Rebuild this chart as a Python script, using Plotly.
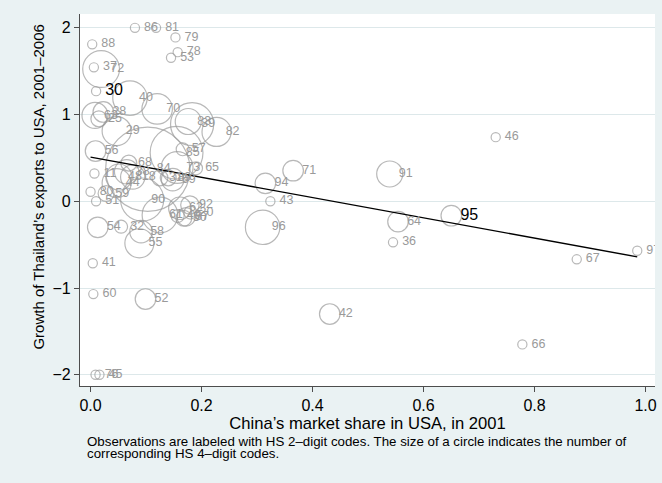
import plotly.graph_objects as go

# HS 2-digit product groups: China's 2001 share of the US market,
# growth of Thailand's exports to the US 2001-2006, and the number of
# HS 4-digit headings in each group (drives the circle size).
hs_codes = [
    "86", "81", "79", "88", "78", "53", "37", "72", "30", "40",
    "70", "83", "39", "82", "29", "63", "28", "25",
    "46", "71", "94", "43", "91", "64", "36", "96", "95", "67",
    "97", "42", "66", "52", "60", "41", "76", "45",
    "84", "85", "57", "56", "68", "73", "65", "69", "11", "48",
    "90", "80", "59", "51", "54", "32", "58", "55", "92", "62",
    "50", "49", "61", "44", "38", "18", "89", "31", "87", "20",
]
china_share = [
    0.080, 0.118, 0.153, 0.003, 0.157, 0.145, 0.006, 0.019, 0.010, 0.071,
    0.120, 0.176, 0.183, 0.227, 0.047, 0.008, 0.023, 0.015,
    0.730, 0.365, 0.315, 0.324, 0.539, 0.554, 0.545, 0.310, 0.650, 0.876,
    0.985, 0.431, 0.778, 0.099, 0.005, 0.004, 0.009, 0.016,
    0.103, 0.155, 0.166, 0.009, 0.069, 0.156, 0.190, 0.148, 0.007, 0.051,
    0.093, 0.000, 0.028, 0.010, 0.013, 0.055, 0.091, 0.088, 0.179, 0.161,
    0.168, 0.157, 0.125, 0.047, 0.065, 0.076, 0.140, 0.125, 0.172, 0.180,
]
thai_growth = [
    2.00, 2.00, 1.89, 1.81, 1.72, 1.655, 1.545, 1.525, 1.27, 1.19,
    1.065, 0.92, 0.89, 0.80, 0.81, 0.99, 1.03, 0.95,
    0.740, 0.353, 0.207, 0.000, 0.315, -0.235, -0.473, -0.300, -0.166, -0.669,
    -0.570, -1.300, -1.650, -1.127, -1.070, -0.715, -2.000, -2.000,
    0.370, 0.560, 0.600, 0.580, 0.440, 0.390, 0.380, 0.250, 0.320, 0.280,
    0.020, 0.110, 0.090, 0.000, -0.300, -0.293, -0.350, -0.484, -0.043, -0.080,
    -0.196, -0.170, -0.158, 0.210, 0.340, 0.280, 0.270, 0.270, -0.180, -0.130,
]
n_headings = [
    1, 1, 1, 1, 1, 1, 1, 16, 1, 14,
    11, 8, 22, 10, 10, 8, 5, 3,
    1, 5, 5, 1, 8, 5, 1, 14, 5, 1,
    1, 5, 1, 5, 1, 1, 1, 1,
    84, 33, 2, 5, 3, 12, 2, 6, 1, 8,
    22, 1, 3, 1, 5, 2, 6, 10, 4, 6,
    3, 2, 15, 10, 7, 7, 3, 3, 4, 2,
]

# Codes whose labels are printed larger and in black
highlighted = ["30", "95"]

# Fitted line (weighted least squares)
fit_intercept = 0.51
fit_slope = -1.168

# Axis ticks
x_ticks = [0.0, 0.2, 0.4, 0.6, 0.8, 1.0]
y_ticks = [-2, -1, 0, 1, 2]

GRAY = "#9a9a9a"
BG = "#EAF2F3"
FONT = "Liberation Sans"

fig = go.Figure()

# Circles: area proportional to number of HS 4-digit headings
fig.add_trace(go.Scatter(
    x=china_share, y=thai_growth, mode="markers",
    marker=dict(
        symbol="circle-open", size=n_headings, sizemode="area",
        sizeref=1 / (6.5 ** 2), sizemin=1,
        color=GRAY, line=dict(width=1.2, color=GRAY),
    ),
    hoverinfo="skip", showlegend=False,
))

# Fitted line across the observed range
x_lo, x_hi = min(china_share), max(china_share)
fig.add_trace(go.Scatter(
    x=[x_lo, x_hi],
    y=[fit_intercept + fit_slope * x_lo, fit_intercept + fit_slope * x_hi],
    mode="lines", line=dict(color="black", width=1.4),
    hoverinfo="skip", showlegend=False,
))

# Labels at a fixed offset to the right of each centre
plain = [i for i, c in enumerate(hs_codes) if c not in highlighted]
bold = [i for i, c in enumerate(hs_codes) if c in highlighted]
for idx, color, fsize in ((plain, GRAY, 12.5), (bold, "black", 16)):
    fig.add_trace(go.Scatter(
        x=[china_share[i] for i in idx],
        y=[thai_growth[i] for i in idx],
        text=[hs_codes[i] for i in idx],
        mode="markers+text", textposition="middle right",
        marker=dict(size=13, color="rgba(0,0,0,0)"),
        textfont=dict(color=color, size=fsize, family=FONT),
        hoverinfo="skip", showlegend=False,
    ))

# Vertical axis title
fig.add_annotation(
    text="Growth of Thailand\u2019s exports to USA, 2001\u20132006",
    xref="paper", yref="paper", x=-0.072, y=0.535,
    xanchor="center", yanchor="middle", textangle=-90,
    showarrow=False, font=dict(size=15, color="black", family=FONT),
)

# Note below the chart
fig.add_annotation(
    text="Observations are labeled with HS 2\u2013digit codes. The size of a circle indicates the number of",
    xref="paper", yref="paper", x=0.008, y=-0.123, xanchor="left", yanchor="top",
    showarrow=False, font=dict(size=13.3, color="black", family=FONT),
)
fig.add_annotation(
    text="corresponding HS 4\u2013digit codes.",
    xref="paper", yref="paper", x=0.008, y=-0.155, xanchor="left", yanchor="top",
    showarrow=False, font=dict(size=13.3, color="black", family=FONT),
)

fig.update_layout(
    width=662, height=483,
    margin=dict(l=80, r=5, t=14, b=97),
    paper_bgcolor=BG, plot_bgcolor="white",
    font=dict(family=FONT, color="black"),
    xaxis=dict(
        range=[-0.019, 1.017], tickvals=x_ticks, tickformat=".1f",
        showgrid=False, zeroline=False,
        showline=True, linecolor="#4d4d4d", linewidth=1.2,
        ticks="outside", ticklen=5, tickcolor="#4d4d4d",
        tickfont=dict(size=16),
        title=dict(text="China\u2019s market share in USA, in 2001",
                   font=dict(size=16.6), standoff=1),
    ),
    yaxis=dict(
        range=[-2.13, 2.16], tickvals=y_ticks,
        showgrid=True, gridcolor="#DDE8EA", gridwidth=1, zeroline=False,
        showline=True, linecolor="#4d4d4d", linewidth=1.2,
        ticks="outside", ticklen=5, tickcolor="#4d4d4d",
        tickfont=dict(size=16),
    ),
)

fig.write_html("out.html")
